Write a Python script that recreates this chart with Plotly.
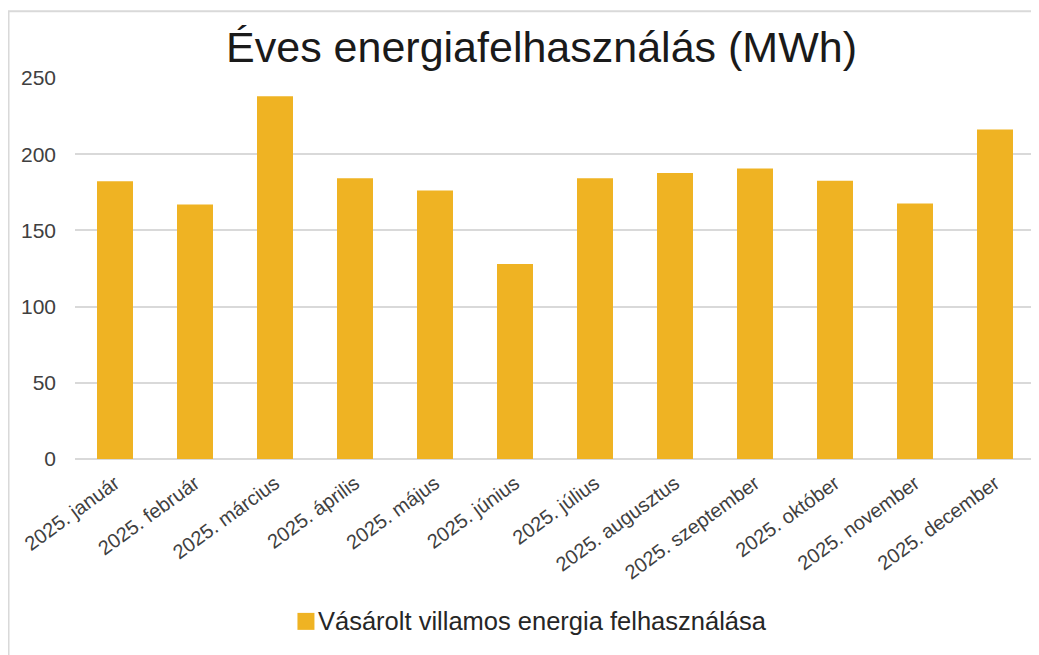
import plotly.graph_objects as go

months = ["2025. január", "2025. február", "2025. március", "2025. április",
          "2025. május", "2025. június", "2025. július", "2025. augusztus",
          "2025. szeptember", "2025. október", "2025. november", "2025. december"]
consumption = [182.3, 167.0, 238.0, 184.3, 176.2, 127.9,
               184.3, 187.7, 190.6, 182.5, 167.7, 216.2]
series_name = "Vásárolt villamos energia felhasználása"
title_text = "Éves energiafelhasználás (MWh)"
y_ticks = [0, 50, 100, 150, 200, 250]

# page has an 8px body margin; figure coordinates = screen - 8
W, H = 1031, 647
L, R, T, B = 66.5, 4.3, 69.7, 196
pw, ph = W - L - R, H - T - B

def px_x(x):
    return (x - L) / pw

def px_y(y):
    return (H - B - y) / ph

FONT = "Liberation Sans, Arial, sans-serif"
BAR = "#EFB323"
GRID = "#D9D9D9"

fig = go.Figure()
fig.add_trace(go.Bar(
    x=months, y=consumption, name=series_name,
    marker=dict(color=BAR, line=dict(width=0)),
    showlegend=False,
))

# custom legend (square + label) to match the reference's tight spacing
leg_x0, leg_y0, leg_size = 289, 605, 17
shapes = [
    dict(type="rect", xref="paper", yref="paper",
         x0=px_x(0), x1=px_x(1060), y0=px_y(670), y1=px_y(3),
         line=dict(color=GRID, width=2), fillcolor="rgba(0,0,0,0)", layer="below"),
    dict(type="rect", xref="paper", yref="paper",
         x0=px_x(leg_x0), x1=px_x(leg_x0 + leg_size),
         y0=px_y(leg_y0 + leg_size), y1=px_y(leg_y0),
         line=dict(width=0), fillcolor=BAR),
]
annotations = [
    dict(text=series_name, xref="paper", yref="paper",
         x=px_x(leg_x0 + leg_size + 2), y=px_y(leg_y0 + leg_size / 2),
         xanchor="left", yanchor="middle", showarrow=False,
         font=dict(family=FONT, size=25.5, color="#262626")),
]

fig.update_layout(
    width=W, height=H,
    margin=dict(l=L, r=R, t=T, b=B, autoexpand=False),
    paper_bgcolor="white", plot_bgcolor="white",
    bargap=0.55,
    font=dict(family=FONT, color="#404040"),
    title=dict(text=title_text, x=533.5 / W, xanchor="center",
               y=1 - 39 / H, yanchor="middle", yref="container",
               font=dict(family=FONT, size=43, color="#1a1a1a")),
    xaxis=dict(tickangle=-36, tickfont=dict(size=20, color="#404040"),
               showgrid=False, showline=False, ticks="", zeroline=False,
               ticklabelstandoff=8),
    yaxis=dict(range=[0, 250], tickvals=y_ticks, tickfont=dict(size=21, color="#404040"),
               showgrid=True, gridcolor=GRID, gridwidth=2,
               zeroline=True, zerolinecolor=GRID, zerolinewidth=2,
               showline=False, ticks="", ticklabelstandoff=18),
    shapes=shapes,
    annotations=annotations,
)

fig.write_html("out.html")
